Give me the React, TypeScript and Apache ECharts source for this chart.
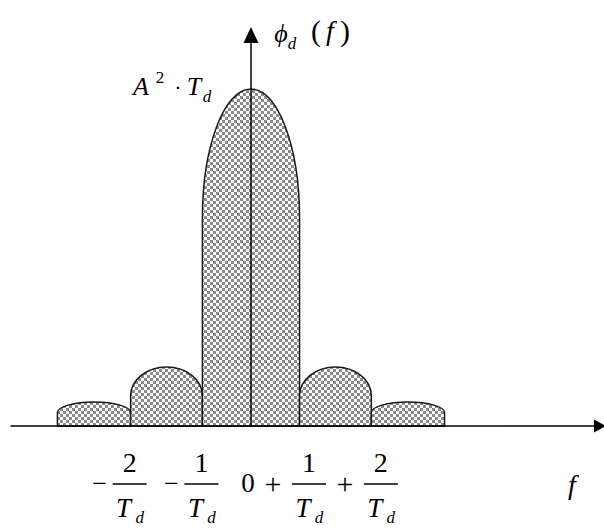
import { useEffect, useRef } from 'react';
import * as echarts from 'echarts';

// Schematic spectral density: lobes along f (units of 1/T_d, main lobe drawn narrower, not to scale)
const lobeLeft = [-2.67, -1.66, -0.67, 0.67, 1.66];
const lobeRight = [-1.66, -0.67, 0.67, 1.66, 2.67];
const lobePeak = [0.071, 0.175, 1, 0.175, 0.071]; // relative to A^2 * T_d
const lobeShoulder = [0.04, 0.09, 0.617, 0.09, 0.04]; // where the straight sides turn into the rounded cap

// Frequency labels under the axis
const tickValues = [-1.66, -0.67, 0, 0.67, 1.66];
const tickSigns = ['\u2212', '\u2212', '', '+', '+'];
const tickNumerators = ['2', '1', '0', '1', '2'];

const X_MIN = -3.31;
const X_MAX = 4.814;
const Y_MAX = 1.16;

const SERIF = "'Liberation Serif', 'Times New Roman', serif";

function makeChecker(): HTMLCanvasElement {
  const c = document.createElement('canvas');
  c.width = 6;
  c.height = 6;
  const ctx = c.getContext('2d')!;
  ctx.fillStyle = '#ffffff';
  ctx.fillRect(0, 0, 6, 6);
  ctx.fillStyle = '#8a8a8a';
  ctx.fillRect(0, 0, 3, 3);
  ctx.fillRect(3, 3, 3, 3);
  return c;
}

function txt(text: string, x: number, y: number, size: number, italic: boolean) {
  return {
    type: 'text',
    x,
    y,
    style: {
      text,
      fill: '#000',
      font: `${italic ? 'italic ' : ''}${size}px ${SERIF}`,
      align: 'center',
      verticalAlign: 'middle',
    },
  };
}

export default function App() {
  const ref = useRef<HTMLDivElement>(null);

  useEffect(() => {
    if (!ref.current) return;
    const chart = echarts.init(ref.current, null, { renderer: 'svg' });
    const pattern = {
      image: makeChecker(),
      repeat: 'repeat',
      imageWidth: 6,
      imageHeight: 6,
    };

    const axisLine = (size: number[]) => ({
      show: true,
      onZero: true,
      symbol: ['none', 'triangle'],
      symbolSize: size,
      lineStyle: { color: '#000', width: 1.5 },
    });

    chart.setOption({
      animation: false,
      backgroundColor: '#ffffff',
      grid: { left: 11, right: 4, top: 35, bottom: 103, outerBoundsMode: 'none' },
      xAxis: {
        type: 'value',
        min: X_MIN,
        max: X_MAX,
        z: 5,
        axisLine: axisLine([13, 12]),
        axisTick: { show: false },
        axisLabel: { show: false },
        splitLine: { show: false },
      },
      yAxis: {
        type: 'value',
        min: 0,
        max: Y_MAX,
        z: 5,
        axisLine: axisLine([15, 16]),
        axisTick: { show: false },
        axisLabel: { show: false },
        splitLine: { show: false },
      },
      series: [
        {
          type: 'custom',
          z: 2,
          data: lobeLeft.map((l, i) => [l, lobeRight[i], lobeShoulder[i], lobePeak[i]]),
          renderItem: (_params: any, api: any) => {
            const l = api.value(0);
            const r = api.value(1);
            const s = api.value(2);
            const p = api.value(3);
            const p0 = api.coord([l, 0]);
            const p1 = api.coord([l, s]);
            const pt = api.coord([(l + r) / 2, p]);
            const p2 = api.coord([r, s]);
            const p3 = api.coord([r, 0]);
            const rx = (p3[0] - p0[0]) / 2;
            const ry = p1[1] - pt[1];
            const k = 0.5523;
            const d =
              `M${p0[0]},${p0[1]}L${p1[0]},${p1[1]}` +
              `C${p1[0]},${p1[1] - k * ry} ${pt[0] - k * rx},${pt[1]} ${pt[0]},${pt[1]}` +
              `C${pt[0] + k * rx},${pt[1]} ${p2[0]},${p2[1] - k * ry} ${p2[0]},${p2[1]}` +
              `L${p3[0]},${p3[1]}Z`;
            return {
              type: 'path',
              shape: { pathData: d },
              style: { fill: pattern, stroke: '#1a1a1a', lineWidth: 1.5 },
            };
          },
        },
        {
          type: 'custom',
          z: 3,
          data: tickValues.map((v, i) => [v, 0, i]),
          renderItem: (_params: any, api: any) => {
            const v = api.value(0);
            const i = api.value(2);
            const base = api.coord([v, 0]);
            const sign = tickSigns[i];
            const num = tickNumerators[i];
            if (!sign) {
              return { type: 'group', children: [txt(num, base[0] - 3, base[1] + 57, 27, false)] };
            }
            const cx = base[0] + (v < 0 ? -1 : 9.5);
            const by = base[1] + 58;
            const signX = cx + (sign === '+' ? -36 : -30);
            return {
              type: 'group',
              children: [
                txt(sign, signX, by - 1, sign === '+' ? 30 : 26, false),
                txt(num, cx, base[1] + 36, 28, false),
                {
                  type: 'line',
                  shape: { x1: cx - 17, y1: by, x2: cx + 17, y2: by },
                  style: { stroke: '#000', lineWidth: 1.3 },
                },
                txt('T', cx - 6, base[1] + 82, 27, true),
                txt('d', cx + 10, base[1] + 91, 17, true),
              ],
            };
          },
        },
      ],
      graphic: [
        // ordinate label
        txt('\u03d5', 281, 33, 26, true),
        txt('d', 292, 43, 17, true),
        txt('(', 316, 30, 30, false),
        txt('f', 330, 30, 28, true),
        txt(')', 345, 30, 30, false),
        // peak value
        txt('A', 141, 86, 26, true),
        txt('2', 160, 77, 17, false),
        txt('\u00b7', 178, 87, 22, false),
        txt('T', 194, 86, 26, true),
        txt('d', 207, 96, 17, true),
        // abscissa label
        txt('f', 572, 484, 28, true),
      ],
    });

    return () => chart.dispose();
  }, []);

  return (
    <div
      ref={ref}
      style={{ position: 'absolute', left: 0, top: 0, width: 604, height: 529, background: '#fff' }}
    />
  );
}
